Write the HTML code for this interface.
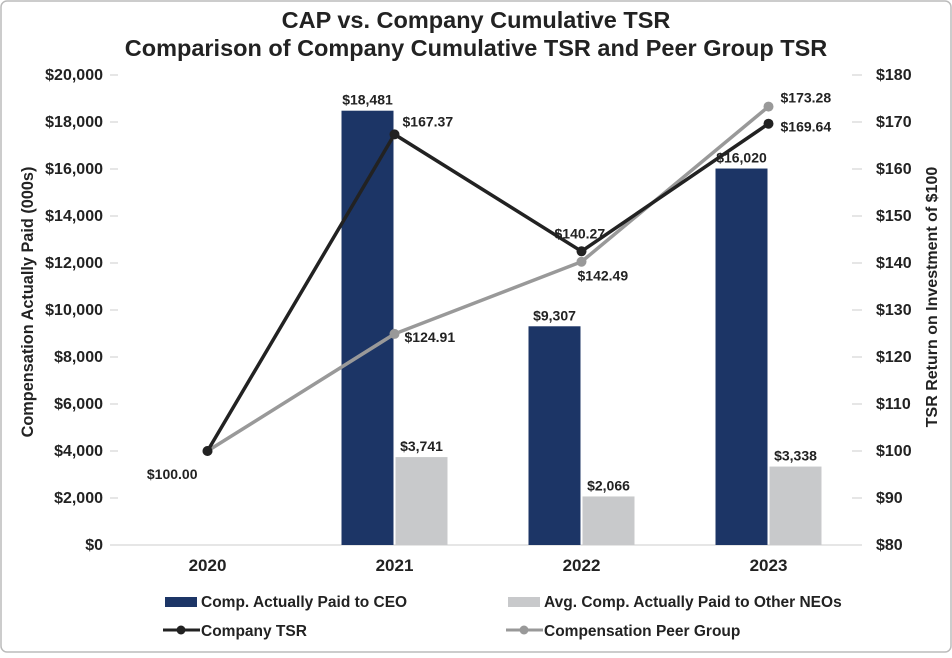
<!DOCTYPE html>
<html><head><meta charset="utf-8"><style>
body{margin:0;background:#fff;font-family:"Liberation Sans",Arial,sans-serif}
svg text{font-family:"Liberation Sans",Arial,sans-serif;font-weight:bold;fill:#222}
</style></head><body>
<svg id="c" width="952" height="653" xmlns="http://www.w3.org/2000/svg">
<rect x="1" y="1" width="950" height="651" rx="6" fill="#fff" stroke="#bbb" stroke-width="1.5"/>
<text x="476" y="28" text-anchor="middle" font-size="23.5">CAP vs. Company Cumulative TSR</text>
<text x="476" y="56" text-anchor="middle" font-size="23.5">Comparison of Company Cumulative TSR and Peer Group TSR</text>
<text transform="translate(33,302) rotate(-90)" text-anchor="middle" font-size="16.3">Compensation Actually Paid (000s)</text>
<text transform="translate(937,297) rotate(-90)" text-anchor="middle" font-size="16">TSR Return on Investment of $100</text>
<g id="g"></g>
<g>
<rect x="165" y="597" width="32" height="10" fill="#1c3566"/>
<text x="201" y="607" font-size="15.5">Comp. Actually Paid to CEO</text>
<rect x="508" y="597" width="32" height="10" fill="#c8c9cb"/>
<text x="544" y="607" font-size="15.5">Avg. Comp. Actually Paid to Other NEOs</text>
<line x1="163" y1="630" x2="200" y2="630" stroke="#222" stroke-width="3"/><circle cx="181" cy="630" r="4.5" fill="#222"/>
<text x="201" y="636" font-size="15.5">Company TSR</text>
<line x1="506" y1="630" x2="543" y2="630" stroke="#999" stroke-width="3"/><circle cx="524" cy="630" r="4.5" fill="#999"/>
<text x="544" y="636" font-size="15.5">Compensation Peer Group</text>
</g>
</svg>
<script>
const years=["2020","2021","2022","2023"];
const ceo=[null,18481,9307,16020];
const neo=[null,3741,2066,3338];
const companyTSR=[100.00,167.37,142.49,169.64];
const companyLabels=["$100.00","$167.37","$140.27","$169.64"];
const peerTSR=[100.00,124.91,140.27,173.28];
const peerLabels=["","$124.91","$142.49","$173.28"];
const leftTicks=[0,2000,4000,6000,8000,10000,12000,14000,16000,18000,20000];
const rightTicks=[80,90,100,110,120,130,140,150,160,170,180];
const L=114,R=862,T=75,B=545;
const xC=i=>L+(i+0.5)*(R-L)/years.length;
const yL=v=>B-v/20000*(B-T);
const yR=v=>B-(v-80)/100*(B-T);
const g=document.getElementById('g');const NS="http://www.w3.org/2000/svg";
function mk(t,a,txt){const e=document.createElementNS(NS,t);for(const k in a)e.setAttribute(k,a[k]);if(txt!=null)e.textContent=txt;g.appendChild(e);return e;}
const f=v=>v.toLocaleString('en-US');
leftTicks.forEach(v=>{const e=mk('text',{x:L-11,y:yL(v)+5,'text-anchor':'end','font-size':16},'$'+f(v));


mk('line',{x1:L-4,x2:L+4,y1:yL(v),y2:yL(v),stroke:'#ccc','stroke-width':1});});
rightTicks.forEach(v=>{const e=mk('text',{x:R+14,y:yR(v)+5,'font-size':16},'$'+v);


mk('line',{x1:R-10,x2:R,y1:yR(v),y2:yR(v),stroke:'#ccc','stroke-width':1});});
years.forEach((y,i)=>{const e=mk('text',{x:xC(i),y:571,'text-anchor':'middle','font-size':17},y);

});
const bw=52;
mk('line',{x1:L,y1:B,x2:R,y2:B,stroke:'#ddd','stroke-width':1.5});
years.forEach((y,i)=>{
 if(ceo[i]!=null){const r=mk('rect',{x:xC(i)-bw-1,y:yL(ceo[i]),width:bw,height:B-yL(ceo[i]),fill:'#1c3566'});
 
 
 const t=mk('text',{x:xC(i)-bw/2-1,y:yL(ceo[i])-6,'text-anchor':'middle','font-size':14},'$'+f(ceo[i]));
 
 }
 if(neo[i]!=null){const r=mk('rect',{x:xC(i)+1,y:yL(neo[i]),width:bw,height:B-yL(neo[i]),fill:'#c8c9cb'});
 
 
 const t=mk('text',{x:xC(i)+bw/2+1,y:yL(neo[i])-6,'text-anchor':'middle','font-size':14},'$'+f(neo[i]));
 
 }
});
function series(data,labels,col,name,offs){
 const p=mk('polyline',{points:data.map((v,i)=>xC(i)+','+yR(v)).join(' '),fill:'none',stroke:col,'stroke-width':3.5});
 
 
 data.forEach((v,i)=>{const c=mk('circle',{cx:xC(i),cy:yR(v),r:5,fill:col});
 
 
 if(offs[i]&&labels[i]){const t=mk('text',{x:xC(i)+offs[i][0],y:yR(v)+offs[i][1],'font-size':14,'text-anchor':offs[i][2]||'start'},labels[i]);
 
 }});
}
series(peerTSR,peerLabels,'#999','peer-tsr',[null,[10,8],[-4,19],[12,-4]]);
series(companyTSR,companyLabels,'#222','company-tsr',[[-10,28,'end'],[8,-8],[-27,-13],[12,8]]);
</script>
</body></html>
